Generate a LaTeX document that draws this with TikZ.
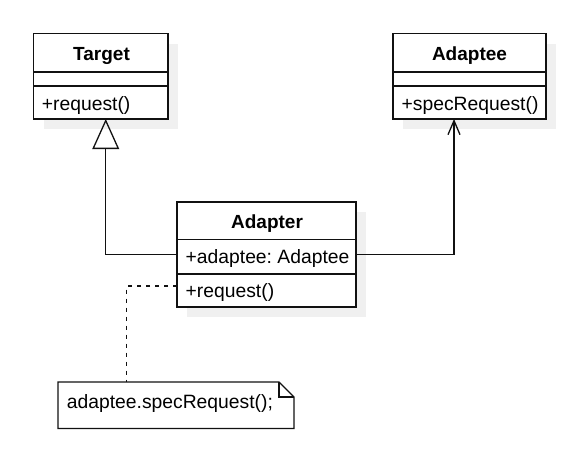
\documentclass[tikz,border=0pt]{standalone}
\usepackage{fontspec}
\setmainfont{Liberation Sans}
\frenchspacing
\usetikzlibrary{arrows.meta,backgrounds,calc}
\definecolor{shadowcol}{HTML}{F0F0F0}
\definecolor{linecol}{HTML}{111111}
\tikzset{
  classbox/.style={draw=linecol, fill=white, line width=1.3pt, inner sep=0pt, outer sep=0pt},
  rowtxt/.style={anchor=base west, inner sep=0pt, font=\fontsize{19.3}{23}\selectfont},
  titletxt/.style={anchor=base, inner sep=0pt, font=\fontsize{19}{23}\selectfont\bfseries},
  divider/.style={draw=linecol, line width=1.3pt},
  conn/.style={draw=linecol, line width=1.3pt, line join=miter},
  inherit/.style={conn, -{Triangle[open, width=26.7pt, length=30pt, line width=1.3pt]}},
  assoc/.style={conn, -{Straight Barb[width=12pt, length=14pt, line width=1.3pt]}},
  notelink/.style={conn, line width=1.2pt, dash pattern=on 4.5pt off 4.5pt},
}
\begin{document}
\begin{tikzpicture}[x=1pt, y=-1pt]
\useasboundingbox (0,0) rectangle (586,471);

% class boxes
\node[classbox, minimum width=134.5pt, minimum height=85.5pt] (target) at (100.75,76.25) {};
\node[classbox, minimum width=153pt, minimum height=85.5pt] (adaptee) at (469.5,76.25) {};
\node[classbox, minimum width=179pt, minimum height=105pt] (adapter) at (266.5,254.5) {};
\node[inner sep=0pt, outer sep=0pt, minimum width=236pt, minimum height=46.5pt] (note) at (176,405.25) {};

\begin{scope}[on background layer]
  \fill[shadowcol] ([shift={(10,10)}]target.south west) rectangle ([shift={(10,10)}]target.north east);
  \fill[shadowcol] ([shift={(10,10)}]adaptee.south west) rectangle ([shift={(10,10)}]adaptee.north east);
  \fill[shadowcol] ([shift={(10,10)}]adapter.south west) rectangle ([shift={(10,10)}]adapter.north east);
\end{scope}

% dividers
\draw[divider] (target.west |- 0,72) -- (target.east |- 0,72);
\draw[divider] (target.west |- 0,86) -- (target.east |- 0,86);
\draw[divider] (adaptee.west |- 0,72) -- (adaptee.east |- 0,72);
\draw[divider] (adaptee.west |- 0,86) -- (adaptee.east |- 0,86);
\draw[divider] (adapter.west |- 0,239.5) -- (adapter.east |- 0,239.5);
\draw[divider] (adapter.west |- 0,274) -- (adapter.east |- 0,274);

% texts
\node[titletxt] (ttitle) at (101.5,60) {Target};
\node[rowtxt] (tmeth) at (41.7,110) {+request()};
\node[titletxt] (atitle) at (469.5,60) {Adaptee};
\node[rowtxt] (ameth) at (401.5,110) {+specRequest()};
\node[titletxt] (adtitle) at (267,228.3) {Adapter};
\node[rowtxt] (adattr) at (185.5,263.3) {+adaptee: Adaptee};
\node[rowtxt] (admeth) at (185.5,297.7) {+request()};

% note shape
\draw[conn, fill=white] (note.north west) -- ([xshift=-15pt]note.north east) -- ([yshift=-15pt]note.north east) -- (note.south east) -- (note.south west) -- cycle;
\draw[conn] ([xshift=-15pt]note.north east) -- ([xshift=-15pt,yshift=-15pt]note.north east) -- ([yshift=-15pt]note.north east);
\node[rowtxt] (notetxt) at (66.7,408) {adaptee.specRequest();};

% connectors
\draw[inherit] (adapter.west) -| ([xshift=5pt]target.south);
\draw[assoc] (adapter.east) -| ([xshift=-15.5pt]adaptee.south);
\draw[notelink] ([yshift=-31.5pt]adapter.west) -| ([xshift=-49.5pt]note.north);
\end{tikzpicture}
\end{document}
